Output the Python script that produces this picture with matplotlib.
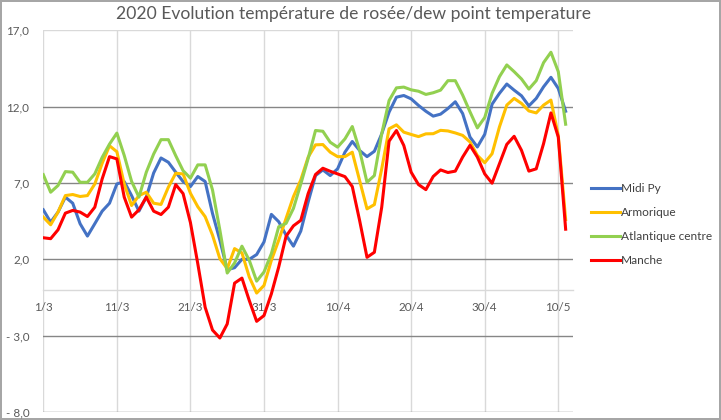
import matplotlib
matplotlib.use("Agg")
import matplotlib.pyplot as plt
import numpy as np
import pandas as pd

# ---------------- data ----------------
start_date = "2020-03-01"
series_names = ["Midi Py", "Armorique", "Atlantique centre", "Manche"]

midi_py = [5.24, 4.43, 5.09, 6.07, 5.67, 4.33, 3.52, 4.33, 5.15, 5.67,
           6.93, 7.09, 6.17, 5.15, 6.07, 7.65, 8.63, 8.35, 7.70, 7.09,
           6.76, 7.42, 7.09, 5.00, 3.25, 1.32, 1.45, 2.00, 2.00, 2.31,
           3.14, 4.94, 4.46, 3.58, 2.86, 3.85, 5.75, 7.48, 7.85, 7.48,
           7.92, 9.01, 9.71, 9.12, 8.72, 9.07, 10.21, 11.63, 12.61, 12.72,
           12.50, 12.07, 11.69, 11.37, 11.50, 11.87, 12.31, 11.54, 10.00, 9.35,
           10.18, 12.15, 12.86, 13.47, 13.07, 12.70, 12.04, 12.53, 13.29, 13.91,
           13.18, 11.69]

armorique = [4.76, 4.26, 5.09, 6.17, 6.24, 6.11, 6.17, 6.93, 8.28, 9.43,
             9.04, 6.93, 5.52, 6.17, 6.39, 5.67, 5.59, 6.72, 7.63, 7.59,
             6.32, 5.44, 4.79, 3.58, 2.04, 1.39, 2.70, 2.42, 0.84, -0.21,
             0.29, 1.93, 3.25, 4.68, 6.10, 7.20, 8.68, 9.49, 9.51, 9.01,
             8.72, 8.72, 9.01, 7.15, 5.30, 5.58, 7.92, 10.54, 10.80, 10.32,
             10.17, 10.03, 10.21, 10.22, 10.44, 10.40, 10.27, 10.11, 9.68, 8.80,
             8.32, 8.91, 10.66, 12.09, 12.53, 12.20, 11.71, 11.58, 12.09, 12.42,
             10.10, 4.60]

atlantique_centre = [7.54, 6.39, 6.83, 7.74, 7.70, 7.04, 7.04, 7.59, 8.67, 9.54,
                     10.26, 8.80, 7.10, 6.07, 7.70, 8.89, 9.83, 9.83, 8.78, 7.80,
                     7.31, 8.18, 8.18, 6.54, 3.91, 1.10, 1.76, 2.86, 1.93, 0.57,
                     1.17, 2.37, 4.13, 4.35, 5.33, 6.93, 8.60, 10.43, 10.38, 9.66,
                     9.34, 9.88, 10.69, 9.12, 7.04, 7.48, 10.21, 12.39, 13.22, 13.27,
                     13.09, 13.00, 12.79, 12.90, 13.07, 13.69, 13.69, 12.75, 11.65, 10.60,
                     11.28, 12.86, 13.95, 14.72, 14.28, 13.80, 13.14, 13.69, 14.87, 15.55,
                     14.28, 10.84]

manche = [3.41, 3.35, 3.93, 5.02, 5.20, 5.09, 4.80, 5.41, 7.26, 8.72,
          8.57, 6.07, 4.76, 5.24, 6.07, 5.15, 4.93, 5.41, 6.89, 6.30,
          4.40, 1.71, -1.14, -2.63, -3.15, -2.23, 0.44, 0.77, -0.70, -2.06,
          -1.68, -0.26, 1.50, 3.51, 4.19, 4.55, 6.30, 7.55, 7.96, 7.76,
          7.59, 7.41, 6.76, 4.53, 2.13, 2.46, 5.41, 9.73, 10.43, 9.45,
          7.70, 6.89, 6.56, 7.42, 7.85, 7.68, 7.77, 8.69, 9.46, 8.69,
          7.59, 6.98, 8.25, 9.52, 10.05, 9.13, 7.77, 7.92, 9.57, 11.58,
          10.00, 3.97]

y_ticks = [-8, -3, 2, 7, 12, 17]
y_tick_labels = ["- 8,0", "- 3,0", "2,0", "7,0", "12,0", "17,0"]
title_text = "2020 Evolution température de rosée/dew point temperature"

# ---------------- style ----------------
colors = ["#4472C4", "#FFC000", "#92D050", "#FF0000"]
dark_grid = "#868686"
light_grid = "#d9d9d9"
text_grey = "#595959"
plt.rcParams["font.family"] = ["Lato", "DejaVu Sans"]

W, H, DPI = 721, 420, 100
fig = plt.figure(figsize=(W / DPI, H / DPI), dpi=DPI)
fig.patch.set_facecolor("white")
fig.patch.set_edgecolor("#a6a6a6")
fig.patch.set_linewidth(1.5)

left, right, top, bottom = 43.3, 573.0, 30.1, 412.1
ax = fig.add_axes([left / W, 1 - bottom / H, (right - left) / W, (bottom - top) / H])

dates = pd.date_range(start_date, periods=len(midi_py), freq="D")
x = np.arange(len(dates))
tick_pos = x[::10]
tick_labels = [f"{d.day}/{d.month}" for d in dates[::10]]

ax.set_xlim(0, 72)
ax.set_ylim(-8, 17)

# gridlines
for tp in tick_pos:
    ax.axvline(tp, color=light_grid, lw=1.0, zorder=0)
for yt in y_ticks:
    ax.axhline(yt, color=(light_grid if yt == y_ticks[-1] else dark_grid), lw=1.0, zorder=0.5)

for vals, name, c in zip([midi_py, armorique, atlantique_centre, manche], series_names, colors):
    ax.plot(x, vals, color=c, lw=2.2, label=name, solid_joinstyle="round", zorder=3)

for s in ["top", "right", "left"]:
    ax.spines[s].set_visible(False)
ax.spines["bottom"].set_position(("data", 0))
ax.spines["bottom"].set_color(light_grid)
ax.spines["bottom"].set_linewidth(1.0)
ax.spines["bottom"].set_zorder(0.6)

ax.set_xticks(tick_pos)
ax.set_xticklabels(tick_labels)
ax.set_yticks(y_ticks)
ax.set_yticklabels(y_tick_labels)
ax.tick_params(axis="x", length=0, pad=9, labelsize=8.4, colors=text_grey)
ax.tick_params(axis="y", length=0, pad=10, labelsize=8.4, colors=text_grey)
for lab in ax.get_yticklabels():
    lab.set_horizontalalignment("right")

fig.text(354 / W, 1 - 14.5 / H, title_text, ha="center", va="center",
         fontsize=12.6, color=text_grey)

leg = ax.legend(loc="center left", bbox_to_anchor=(590.5 / W, 1 - 224.5 / H),
                bbox_transform=fig.transFigure, frameon=False, fontsize=8.6,
                handlelength=2.45, handletextpad=0.1, labelspacing=1.1,
                borderpad=0, borderaxespad=0)
for t in leg.get_texts():
    t.set_color("#404040")

fig.savefig("out.png", dpi=DPI)
